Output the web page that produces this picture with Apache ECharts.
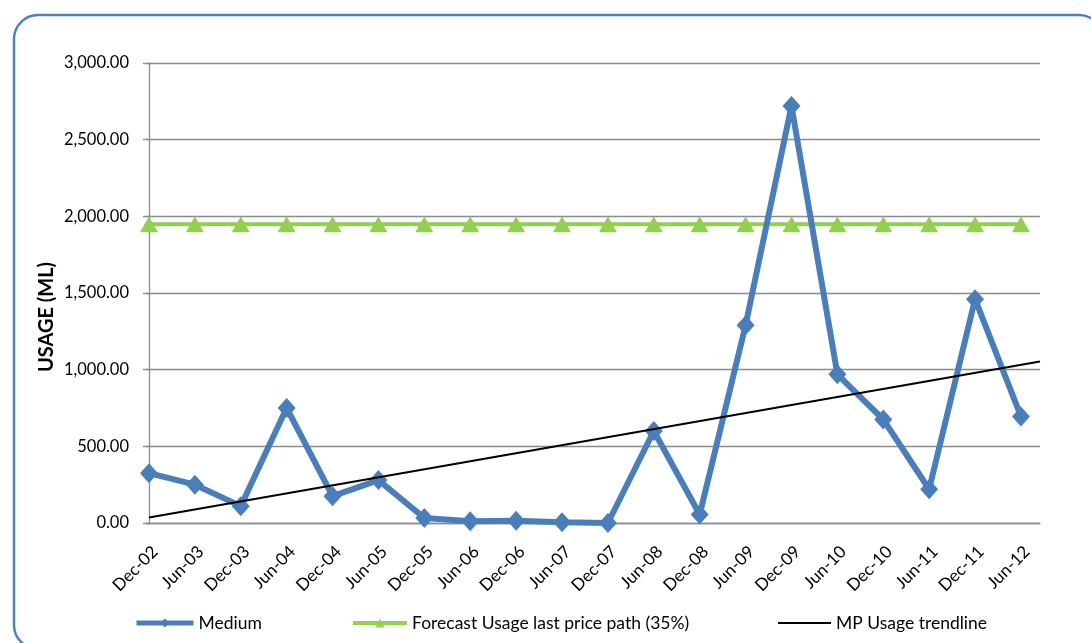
<!DOCTYPE html>
<html>
<head>
<meta charset="utf-8">
<script src="https://cdn.jsdelivr.net/npm/echarts@6/dist/echarts.min.js"></script>
<style>
  html, body { margin: 0; padding: 0; background: #ffffff; }
  #chart { width: 1091px; height: 643px; }
</style>
</head>
<body>
<div id="chart"></div>
<script>
// Half-yearly periods on the category axis
const periods = ['Dec-02', 'Jun-03', 'Dec-03', 'Jun-04', 'Dec-04', 'Jun-05', 'Dec-05', 'Jun-06', 'Dec-06', 'Jun-07',
                 'Dec-07', 'Jun-08', 'Dec-08', 'Jun-09', 'Dec-09', 'Jun-10', 'Dec-10', 'Jun-11', 'Dec-11', 'Jun-12'];

// Medium usage (ML) per period
const mediumUsage = [325, 250, 110, 750, 175, 280, 33, 12, 15, 5,
                     0, 600, 55, 1290, 2720, 970, 675, 220, 1460, 695];

// Forecast usage on the last price path (35%)
const forecastUsage = [1948, 1948, 1948, 1948, 1948, 1948, 1948, 1948, 1948, 1948,
                       1948, 1948, 1948, 1948, 1948, 1948, 1948, 1948, 1948, 1948];

// MP usage trendline: period positions and usage values at its two ends
const trendPos = [0, 19.415];
const trendUsage = [36, 1053];

// Usage axis ticks
const usageTicks = [0, 500, 1000, 1500, 2000, 2500, 3000];

const FONT = 'Lato';
const TEXT = '#000000';
const GRID = '#8c8c8c';
const BLUE = '#4a7ebb';
const GREEN = '#92d050';

const chart = echarts.init(document.getElementById('chart'), null, { renderer: 'canvas' });

const idx = periods.map((_, i) => i);
const legendText = { fontFamily: FONT, fontSize: 17.5, color: TEXT };

chart.setOption({
  animation: false,
  backgroundColor: '#ffffff',
  textStyle: { fontFamily: FONT, color: TEXT },
  graphic: [
    {
      type: 'rect',
      shape: { x: 14, y: 15, width: 1089, height: 634, r: 24 },
      style: { fill: 'none', stroke: '#4f81bd', lineWidth: 2.5 },
      silent: true,
      z: -1
    },
    {
      // usage axis title
      type: 'text',
      x: 47,
      y: 317,
      rotation: Math.PI / 2,
      style: {
        text: 'USAGE (ML)',
        fontFamily: FONT,
        fontSize: 20,
        fontWeight: 'bold',
        fill: TEXT,
        align: 'center',
        verticalAlign: 'middle'
      },
      silent: true
    }
  ],
  grid: { left: 146, right: 51, top: 63, bottom: 120, containLabel: false },
  xAxis: {
    type: 'value',
    min: -0.065,
    max: 19.415,
    splitLine: { show: false },
    axisLine: { show: true, lineStyle: { color: GRID, width: 1.3 } },
    axisTick: { show: false },
    axisLabel: {
      customValues: idx,
      rotate: 45,
      align: 'right',
      verticalAlign: 'top',
      margin: 20,
      fontFamily: FONT,
      fontSize: 17,
      color: TEXT,
      formatter: (v) => periods[Math.round(v)]
    }
  },
  yAxis: {
    type: 'value',
    min: usageTicks[0],
    max: usageTicks[usageTicks.length - 1],
    interval: 500,
    axisLine: { show: true, lineStyle: { color: GRID, width: 1.3 } },
    axisTick: { show: true, length: 6, lineStyle: { color: GRID, width: 1.3 } },
    splitLine: { show: true, lineStyle: { color: GRID, width: 1.3 } },
    axisLabel: {
      margin: 17,
      fontFamily: FONT,
      fontSize: 16.5,
      color: TEXT,
      formatter: (v) => v.toLocaleString('en-US', { minimumFractionDigits: 2, maximumFractionDigits: 2 })
    }
  },
  legend: [
    { data: ['Medium'], left: 134, top: 614, padding: 0, itemWidth: 57, itemHeight: 11,
      lineStyle: { width: 5 }, textStyle: legendText },
    { data: ['Forecast Usage last price path (35%)'], left: 351, top: 614, padding: 0, itemWidth: 54, itemHeight: 11,
      lineStyle: { width: 4 }, textStyle: legendText },
    { data: [{ name: 'MP Usage trendline', icon: 'rect' }], left: 778, top: 614, padding: 0, itemWidth: 53, itemHeight: 2,
      textStyle: legendText }
  ],
  series: [
    {
      name: 'Medium',
      type: 'line',
      data: mediumUsage.map((v, i) => [i, v]),
      symbol: 'diamond',
      symbolSize: [18, 20],
      lineStyle: { color: BLUE, width: 6 },
      itemStyle: { color: BLUE },
      z: 3
    },
    {
      name: 'Forecast Usage last price path (35%)',
      type: 'line',
      data: forecastUsage.map((v, i) => [i, v]),
      symbol: 'triangle',
      symbolSize: [18, 16],
      lineStyle: { color: GREEN, width: 4 },
      itemStyle: { color: GREEN },
      z: 2
    },
    {
      name: 'MP Usage trendline',
      type: 'line',
      data: trendPos.map((p, i) => [p, trendUsage[i]]),
      symbol: 'none',
      lineStyle: { color: '#000000', width: 2 },
      itemStyle: { color: '#000000' },
      z: 4
    }
  ]
});
</script>
</body>
</html>
